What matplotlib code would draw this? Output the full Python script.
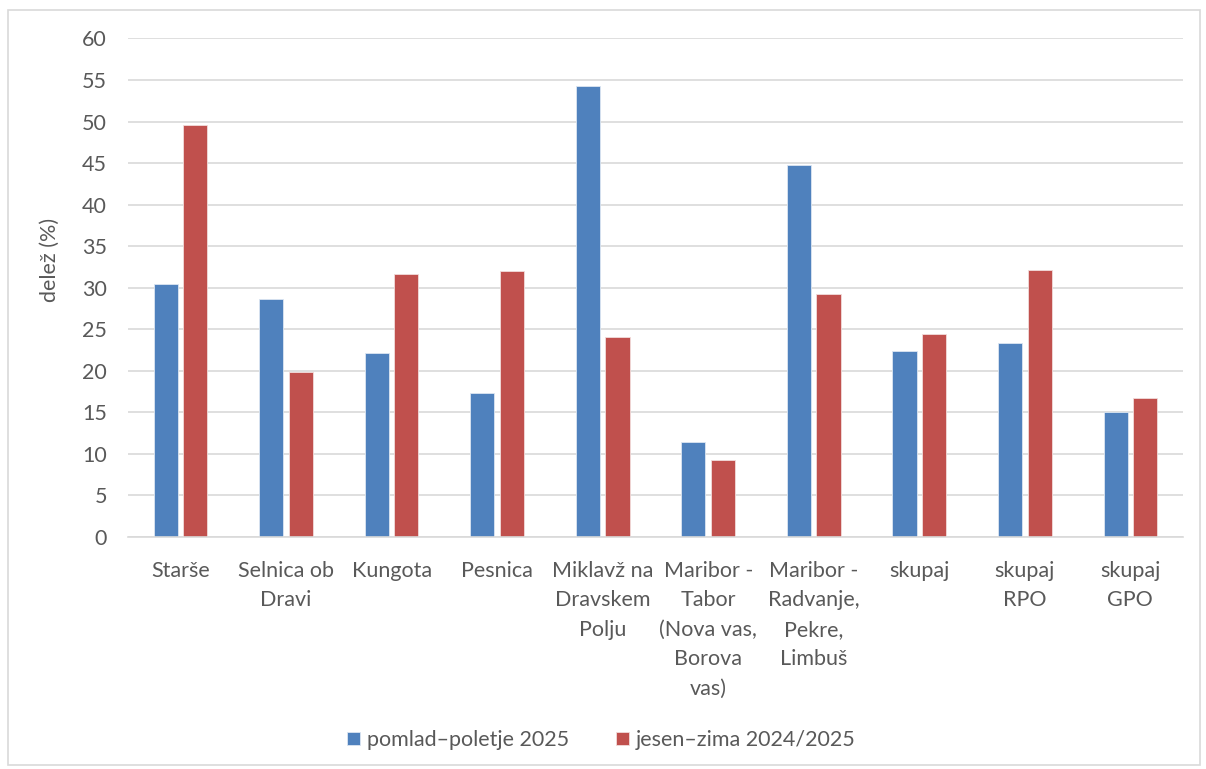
import matplotlib.pyplot as plt
import numpy as np
from matplotlib.patches import Rectangle

# Data
categories = ['Starše', 'Selnica ob\nDravi', 'Kungota', 'Pesnica',
              'Miklavž na\nDravskem\nPolju', 'Maribor -\nTabor\n(Nova vas,\nBorova\nvas)',
              'Maribor -\nRadvanje,\nPekre,\nLimbuš', 'skupaj', 'skupaj\nRPO', 'skupaj\nGPO']
spring_summer = [30.5, 28.7, 22.2, 17.3, 54.3, 11.4, 44.8, 22.4, 23.3, 15.1]
autumn_winter = [49.6, 19.9, 31.6, 32.0, 24.1, 9.3, 29.3, 24.4, 32.1, 16.7]
series_names = ['pomlad–poletje 2025', 'jesen–zima 2024/2025']
yticks = np.arange(0, 61, 5)

plt.rcParams['font.family'] = ['Lato', 'DejaVu Sans']
text_color = '#595959'
blue = '#4F81BD'
red = '#C0504D'
fs = 15.5

fig = plt.figure(figsize=(12.06, 7.69), dpi=100)
# outer chart border
fig.patches.append(Rectangle((8 / 1206, 4 / 769), 1192 / 1206, 755 / 769,
                             transform=fig.transFigure, fill=False,
                             edgecolor='#D9D9D9', linewidth=1.2))

ax = fig.add_axes([0.106, 0.3017, 0.875, 0.6483])
x = np.arange(len(categories))
w = 0.228
ax.bar(x - 0.14, spring_summer, w, color=blue, edgecolor='#DCE6F2', linewidth=0.6,
       label=series_names[0], zorder=3)
ax.bar(x + 0.14, autumn_winter, w, color=red, edgecolor='#F2DCDB', linewidth=0.6,
       label=series_names[1], zorder=3)

ax.set_xlim(-0.5, len(categories) - 0.5)
ax.set_ylim(0, 60)
ax.set_yticks(yticks)
ax.set_xticks(x)
ax.set_xticklabels(categories, linespacing=1.6)
ax.tick_params(axis='both', length=0, labelsize=fs, colors=text_color)
ax.tick_params(axis='x', pad=17)
ax.tick_params(axis='y', pad=15)
ax.grid(axis='y', color='#D9D9D9', linewidth=1.2, zorder=0)
for s in ['top', 'right', 'left']:
    ax.spines[s].set_visible(False)
ax.spines['bottom'].set_color('#D9D9D9')
ax.spines['bottom'].set_linewidth(1.2)
ax.spines['bottom'].set_zorder(4)

fig.text(50 / 1206, 1 - 260 / 769, 'delež (%)', rotation=90, ha='center', va='center',
         fontsize=fs, color=text_color)

leg = fig.legend(loc='center', bbox_to_anchor=(0.4985, 1 - 740 / 769), ncol=2, frameon=False,
                 fontsize=fs, handlelength=0.6, handleheight=0.6, handletextpad=0.3,
                 columnspacing=2.2)
for t in leg.get_texts():
    t.set_color(text_color)

fig.savefig('out.png', dpi=100)
